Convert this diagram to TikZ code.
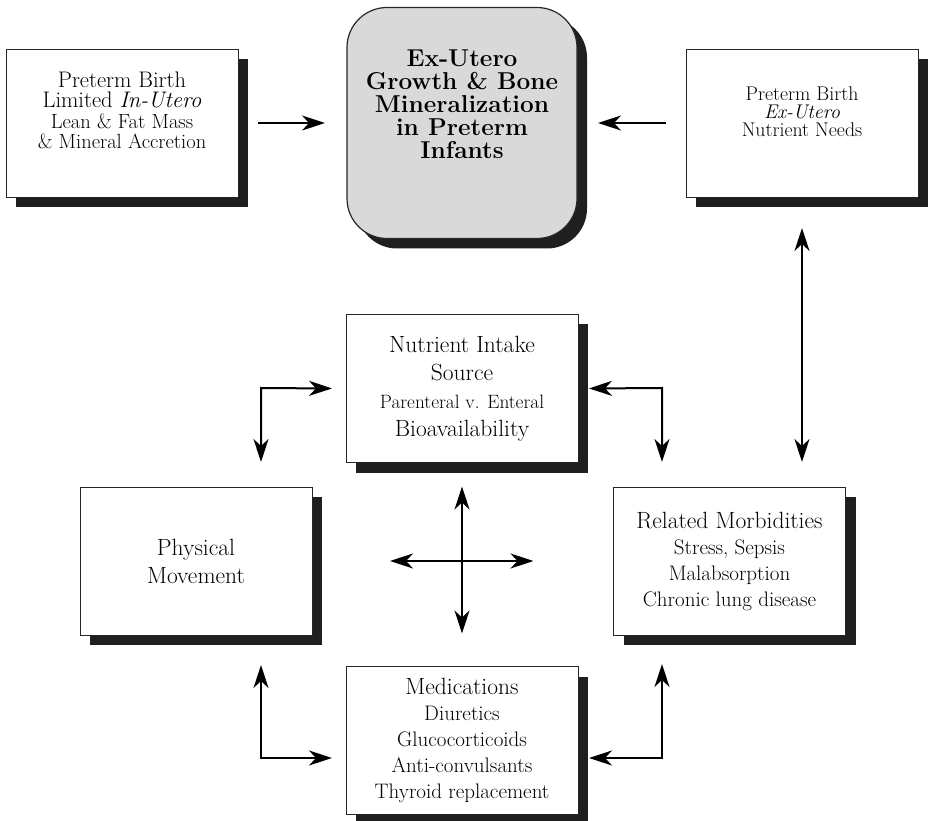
\documentclass[tikz,border=0pt]{standalone}
\usepackage{tikz}
\usetikzlibrary{arrows.meta,shadows,positioning}
\newcommand{\subline}{\fontsize{21}{21}\selectfont}

\begin{document}
\begin{tikzpicture}[x=1pt,y=-1pt,
  box/.style={rectangle,draw=black!85,line width=0.8pt,fill=white,
    minimum width=232pt,minimum height=148pt,inner sep=0pt,outer sep=0pt,
    align=center,font=\fontsize{23.5}{26}\selectfont,
    drop shadow={shadow xshift=10pt,shadow yshift=-10pt,opacity=1,fill=black!88}},
  hub/.style={box,fill=gray!30,rounded corners=40pt,line width=1.2pt,
    minimum width=230pt,minimum height=231pt,
    font=\bfseries\fontsize{24.4}{23}\selectfont},
  arh/.tip={Stealth[length=23pt,width=15pt,inset=7pt]},
  link/.style={line width=2pt,-arh},
  twoway/.style={line width=2pt,arh-arh}]

  \useasboundingbox (0,0) rectangle (930,821);

  \node[hub] (growth) at (462,123) {Ex-Utero\\ Growth \& Bone\\ Mineralization\\ in Preterm\\ Infants\\[15pt]\mbox{}};
  \node[box,font=\fontsize{22.5}{20.5}\selectfont] (prebirth) [left=109pt of growth]
    {Preterm Birth\\ Limited \textit{In-Utero}\\ \fontsize{20.5}{20.5}\selectfont Lean \& Fat Mass\\ \fontsize{20.5}{20.5}\selectfont\& Mineral Accretion\\[5pt]\mbox{}};
  \node[box,font=\fontsize{19.8}{18}\selectfont] (needs) [right=109pt of growth]
    {Preterm Birth\\ \textit{Ex-Utero}\\ Nutrient Needs\\[4pt]\mbox{}};

  \node[box,font=\fontsize{23.5}{28}\selectfont] (intake) [below=76pt of growth]
    {Nutrient Intake\\ Source\\ \fontsize{19.3}{19.3}\selectfont Parenteral v. Enteral\\ Bioavailability};
  \node[box,font=\fontsize{23.5}{28}\selectfont] (movement) at (196,561) {Physical\\ Movement};
  \node[box] (morbid) at (729.5,561)
    {Related Morbidities\\ \subline Stress, Sepsis\\ \subline Malabsorption\\ \subline Chronic lung disease};
  \node[box] (meds) [below=204pt of intake]
    {Medications\\ \subline Diuretics\\ \subline Glucocorticoids\\ \subline Anti-convulsants\\ \subline Thyroid replacement};

  % corners of the side loops
  \coordinate (ul) at (261,388);
  \coordinate (ur) at (662,388);
  \coordinate (ll) at (261,758);
  \coordinate (lr) at (662,758);

  \draw[link,shorten <=20pt,shorten >=22pt] (prebirth.east) -- (growth.west);
  \draw[link,shorten <=20pt,shorten >=21pt] (needs.west) -- (growth.east);
  \draw[twoway] ([yshift=-31pt]needs.south) -- ([yshift=25pt]needs.south |- morbid.north);

  \draw[twoway] ([yshift=25pt]ul |- movement.north) -- (ul) -- ([xshift=-14pt]intake.west);
  \draw[twoway] ([yshift=25pt]ur |- morbid.north) -- (ur) -- ([xshift=11pt]intake.east);
  \draw[twoway] ([yshift=-30pt]ll |- movement.south) -- (ll) -- ([xshift=-14pt]meds.west |- ll);
  \draw[twoway] ([yshift=-29pt]lr |- morbid.south) -- (lr) -- ([xshift=11pt]meds.east |- lr);

  \draw[twoway] ([yshift=-24pt]intake.south) -- ([yshift=33pt]meds.north);
  \draw[twoway] ([xshift=78pt]movement.east) -- ([xshift=-80pt]morbid.west);
\end{tikzpicture}
\end{document}
